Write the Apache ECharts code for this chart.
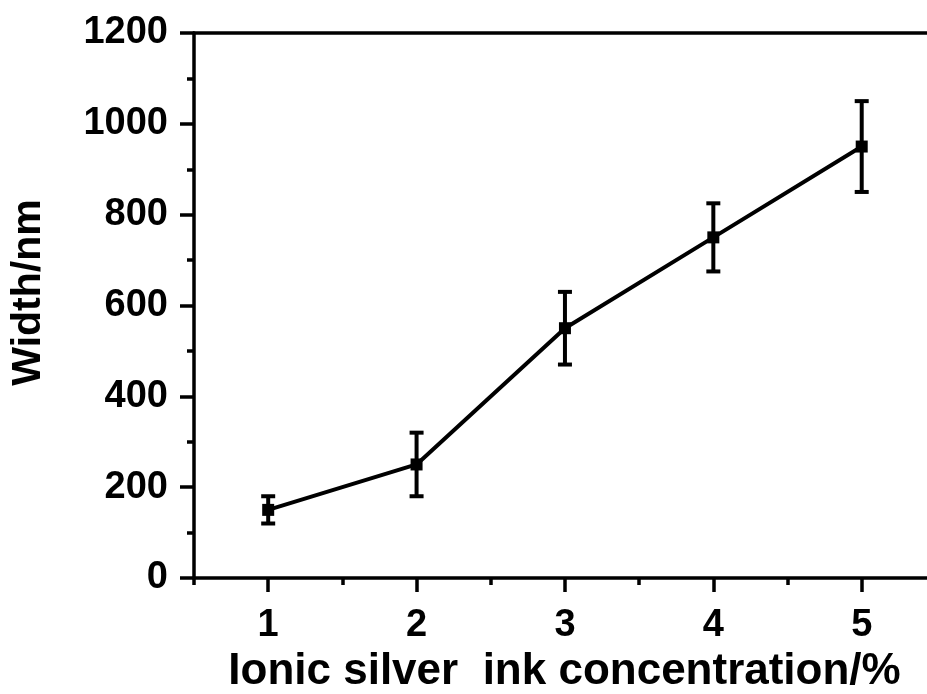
<!DOCTYPE html>
<html>
<head>
    <meta charset="utf-8">
    <title>Width vs concentration</title>
    <script src="https://cdn.jsdelivr.net/npm/echarts@6/dist/echarts.min.js"></script>
    <style>
        html, body { margin: 0; padding: 0; background: #fff; }
        #chart1 { width: 927px; height: 694px; }
    </style>
</head>
<body>
<div id="chart1"></div>
<script>
    // 数据
    var concentration = [1, 2, 3, 4, 5];
    var width = [150, 250, 550, 750, 950];
    var errorBar = [30, 70, 80, 75, 100];
    var xLabelValues = [1, 2, 3, 4, 5];
    var xMinorValues = [0.5, 1.5, 2.5, 3.5, 4.5];

    var font = '"Liberation Sans", Arial, sans-serif';

    var lineData = concentration.map(function (c, i) { return [c, width[i]]; });
    var errData = concentration.map(function (c, i) {
        return [c, width[i] - errorBar[i], width[i] + errorBar[i]];
    });

    // 右侧被裁掉一部分, 所以 max 不是 5.5
    var xMin = 0.5, xMax = 5.44;
    var lw = 3.5;

    var myChart1 = echarts.init(document.getElementById('chart1'));
    myChart1.setOption({
        animation: false,
        grid: { left: 194, right: 0, top: 33, bottom: 116, outerBoundsMode: 'none' },
        xAxis: [
            {
                type: 'value', position: 'bottom', min: xMin, max: xMax,
                axisLine: { lineStyle: { color: '#000', width: lw } },
                axisTick: { show: true, inside: false, length: 14, customValues: xLabelValues,
                    lineStyle: { color: '#000', width: lw } },
                axisLabel: { customValues: xLabelValues, margin: 29, color: '#000',
                    fontSize: 38, fontWeight: 'bold', fontFamily: font },
                splitLine: { show: false },
                name: 'Ionic silver  ink concentration/%', nameLocation: 'middle', nameGap: 66,
                nameTextStyle: { color: '#000', fontSize: 44, fontWeight: 'bold', fontFamily: font,
                    padding: [0, 0, 0, 8] }
            },
            {
                type: 'value', position: 'bottom', min: xMin, max: xMax,
                axisLine: { show: false },
                axisTick: { show: true, length: 7, customValues: xMinorValues,
                    lineStyle: { color: '#000', width: lw } },
                axisLabel: { show: false },
                splitLine: { show: false }
            },
            {
                type: 'value', position: 'top', min: xMin, max: xMax,
                axisLine: { lineStyle: { color: '#000', width: lw } },
                axisTick: { show: false },
                axisLabel: { show: false },
                splitLine: { show: false }
            }
        ],
        yAxis: {
            type: 'value', min: 0, max: 1200, interval: 200,
            axisLine: { show: true, lineStyle: { color: '#000', width: lw } },
            axisTick: { show: true, length: 14, lineStyle: { color: '#000', width: lw } },
            minorTick: { show: true, splitNumber: 2, length: 7, lineStyle: { color: '#000', width: lw } },
            axisLabel: { margin: 26, color: '#000', fontSize: 38, fontWeight: 'bold', fontFamily: font,
                formatter: function (v) { return String(v); } },
            splitLine: { show: false },
            name: 'Width/nm', nameLocation: 'middle', nameGap: 145, nameRotate: 90,
            nameTextStyle: { color: '#000', fontSize: 41, fontWeight: 'bold', fontFamily: font,
                padding: [0, 0, 0, 26] }
        },
        series: [
            {
                type: 'custom',
                xAxisIndex: 0,
                data: errData,
                renderItem: function (params, api) {
                    var x = api.value(0);
                    var lo = api.coord([x, api.value(1)]);
                    var hi = api.coord([x, api.value(2)]);
                    var hw = 7;
                    var st = { stroke: '#000', lineWidth: 4 };
                    return {
                        type: 'group',
                        children: [
                            { type: 'line', shape: { x1: lo[0], y1: lo[1], x2: hi[0], y2: hi[1] }, style: st },
                            { type: 'line', shape: { x1: lo[0] - hw, y1: lo[1], x2: lo[0] + hw, y2: lo[1] }, style: st },
                            { type: 'line', shape: { x1: hi[0] - hw, y1: hi[1], x2: hi[0] + hw, y2: hi[1] }, style: st }
                        ]
                    };
                },
                z: 3
            },
            {
                type: 'line',
                xAxisIndex: 0,
                data: lineData,
                symbol: 'rect',
                symbolSize: 12,
                itemStyle: { color: '#000' },
                lineStyle: { color: '#000', width: 4 },
                z: 4
            }
        ]
    });
</script>
</body>
</html>
